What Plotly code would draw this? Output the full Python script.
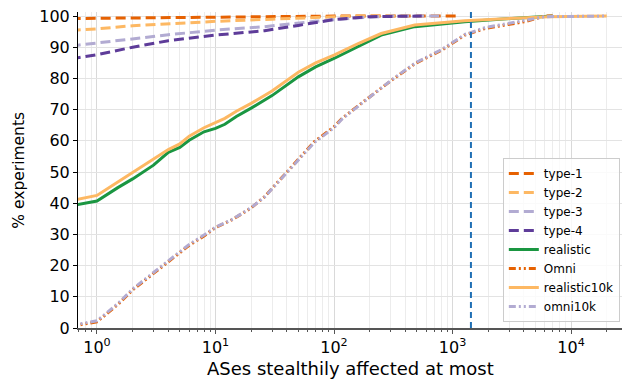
import plotly.graph_objects as go

type1_x = [0.6, 1, 3, 10, 30, 100, 300, 1100]
type1_y = [99.2, 99.3, 99.5, 99.7, 99.85, 100, 100, 100]

type2_x = [0.6, 1, 2, 4, 10, 30, 70, 150, 400]
type2_y = [95.4, 95.9, 96.9, 97.6, 98.3, 99.0, 99.6, 100, 100]

type3_x = [0.6, 1, 2, 4, 10, 26, 68, 150, 300, 850]
type3_y = [90.4, 91.4, 92.6, 94.0, 95.5, 96.6, 98.3, 99.4, 100, 100]

type4_x = [0.6, 1, 2, 4, 10, 26, 50, 97, 200, 550]
type4_y = [86.3, 87.6, 90.0, 92.1, 93.9, 95.3, 97.0, 98.8, 99.8, 100]

realistic_x = [0.6, 1, 1.5, 2, 3, 4, 5, 6, 8, 10, 12, 15, 20, 30, 50, 70, 100, 160, 250, 480, 1270, 3400, 6400, 7000]
realistic_y = [39.2, 40.7, 45, 47.8, 52.2, 56.3, 57.9, 60.2, 62.9, 64, 65.3, 67.8, 70.5, 74.5, 80.5, 83.7, 86.4, 90.2, 93.9, 96.6, 98.2, 99.3, 100, 100]

r10k_x = [0.6, 1, 1.5, 2, 3, 4, 5, 6, 8, 10, 12, 15, 20, 30, 50, 70, 100, 160, 250, 480, 1270, 3400, 6400, 20000]
r10k_y = [40.8, 42.5, 46.8, 49.8, 54, 57.2, 59, 61.5, 64.2, 65.8, 67.2, 69.5, 72, 76, 82, 85, 87.5, 91.2, 94.4, 97.1, 98.5, 99.3, 99.8, 100]

omni_x = [0.6, 1, 1.5, 2, 3, 4, 6, 8, 10, 14, 20, 26, 39, 50, 68, 100, 117, 185, 308, 486, 813, 1270, 1880, 4060, 6000, 7000]
omni_y = [0.5, 2.0, 7.5, 12.2, 17.5, 21.3, 26.5, 29.5, 32.2, 34.8, 38.5, 42.1, 49.6, 54, 59.7, 64.5, 67.2, 73.1, 79.5, 84.8, 89.1, 93.9, 96.0, 98.2, 100, 100]

omni10k_x = [0.6, 1, 1.5, 2, 3, 4, 6, 8, 10, 14, 20, 26, 39, 50, 68, 100, 117, 185, 308, 486, 813, 1270, 1880, 4060, 6000, 20000]
omni10k_y = [0.8, 2.3, 7.8, 12.5, 17.8, 21.6, 26.8, 29.8, 32.3, 34.9, 38.6, 42.0, 49.3, 53.8, 59.4, 64.2, 67.0, 73.0, 79.6, 85.0, 89.3, 94.1, 96.3, 98.6, 99.8, 100]

vline_x = 1430

tickvals = [1, 10, 100, 1000, 10000]
ticktext = ["10<sup>0</sup>", "10<sup>1</sup>", "10<sup>2</sup>", "10<sup>3</sup>", "10<sup>4</sup>"]
minor_vals = [m * d for d in [0.1, 1, 10, 100, 1000, 10000] for m in range(2, 10)]
y_ticks = list(range(0, 101, 10))

c_dorange = "#e66101"
c_lorange = "#fdb863"
c_lpurple = "#b2abd2"
c_dpurple = "#5e3c99"
c_green = "#1a9641"

dash = "10px,5px"
dashdotdot = "7px,3px,2px,3px,2px,3px"

fig = go.Figure()
series = [
    ("type-1", type1_x, type1_y, c_dorange, dash),
    ("type-2", type2_x, type2_y, c_lorange, dash),
    ("type-3", type3_x, type3_y, c_lpurple, dash),
    ("type-4", type4_x, type4_y, c_dpurple, dash),
    ("realistic", realistic_x, realistic_y, c_green, "solid"),
    ("Omni", omni_x, omni_y, c_dorange, dashdotdot),
    ("realistic10k", r10k_x, r10k_y, c_lorange, "solid"),
    ("omni10k", omni10k_x, omni10k_y, c_lpurple, dashdotdot),
]
for name, xs, ys, col, d in series:
    fig.add_trace(go.Scatter(x=xs, y=ys, name=name, mode="lines",
                             line=dict(color=col, width=3, dash=d)))

fig.add_shape(type="line", x0=vline_x, x1=vline_x, xref="x", y0=0, y1=1, yref="paper",
              line=dict(color="#1f6fb4", width=2, dash="6px,4px"))

fig.add_annotation(text="ASes stealthily affected at most", xref="paper", yref="paper",
                   x=0.5, y=-0.1266, xanchor="center", yanchor="middle", showarrow=False,
                   font=dict(size=18))
fig.add_annotation(text="% experiments", xref="paper", yref="paper",
                   x=-0.109, y=0.5, xanchor="center", yanchor="middle", showarrow=False,
                   textangle=-90, font=dict(size=15.5))

fig.update_layout(
    width=623, height=381,
    margin=dict(l=78, r=1, t=12, b=53),
    plot_bgcolor="white", paper_bgcolor="white",
    font=dict(family="DejaVu Sans", color="black", size=16),
    showlegend=True,
    legend=dict(x=0.996, y=0.019, xanchor="right", yanchor="bottom",
                bgcolor="rgba(255,255,255,0.8)", bordercolor="#cccccc", borderwidth=1,
                font=dict(size=12), tracegroupgap=0, itemwidth=30),
    xaxis=dict(type="log", range=[-0.16, 4.43], tickvals=tickvals, ticktext=ticktext,
               automargin=False,
               showline=True, linecolor="#555555", linewidth=2,
               ticks="outside", ticklen=4, tickcolor="#555555",
               showgrid=True, gridcolor="#d9d9d9", gridwidth=1,
               minor=dict(tickvals=minor_vals, ticks="outside", ticklen=2, tickcolor="#555555",
                          showgrid=True, gridcolor="#ececec", gridwidth=1),
               tickfont=dict(size=16), zeroline=False),
    yaxis=dict(range=[0, 101.3], tickvals=y_ticks, automargin=False,
               showline=True, linecolor="black", linewidth=1,
               ticks="outside", ticklen=4, tickcolor="black",
               showgrid=True, gridcolor="#e3e3e3", gridwidth=1,
               tickfont=dict(size=16), zeroline=False),
)

fig.write_html("out.html", config={"displayModeBar": False},
               post_script="document.body.style.margin='0px'; document.body.style.padding='0px';")
